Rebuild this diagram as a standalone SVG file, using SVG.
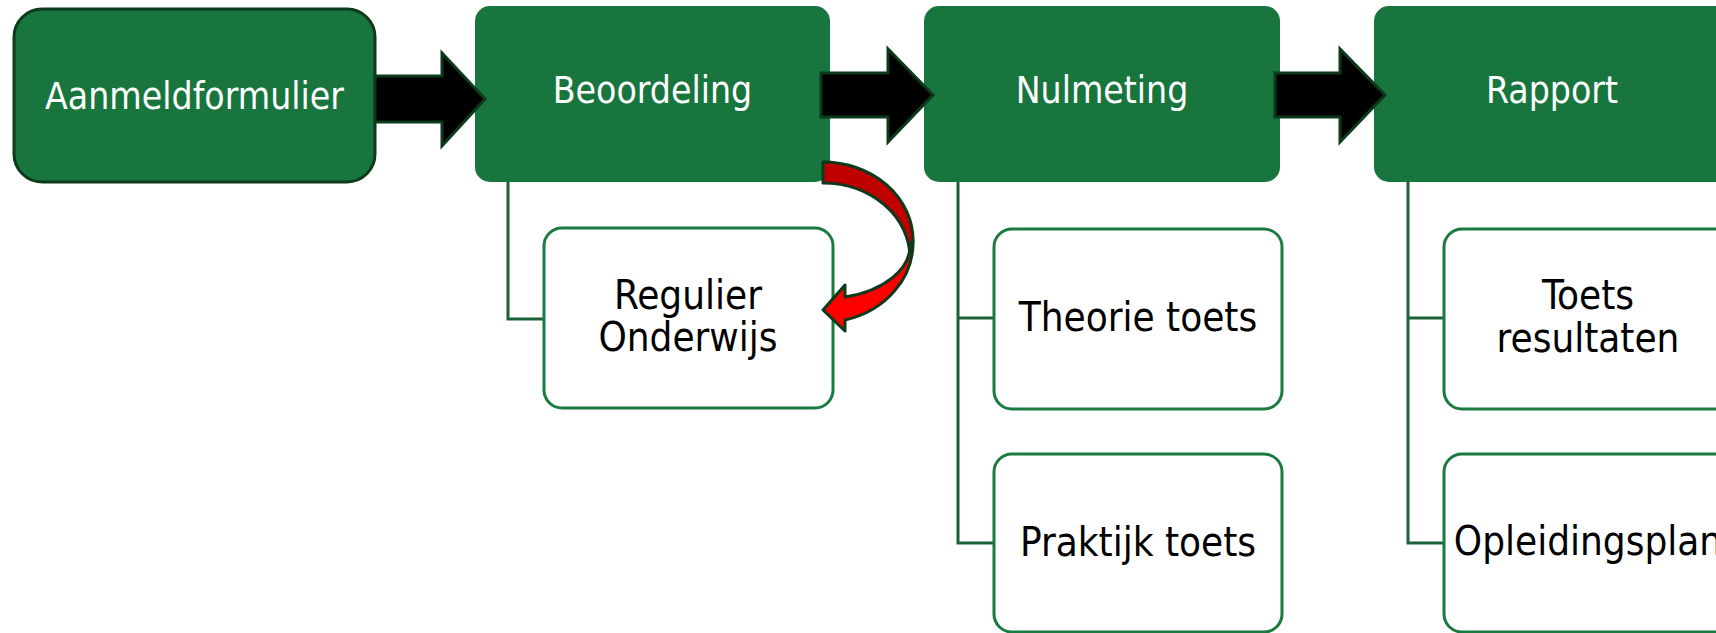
<svg xmlns="http://www.w3.org/2000/svg" width="1716" height="633" viewBox="0 0 1716 633">
<style>
.head{fill:#17753d}
.headtxt{fill:#ffffff;font-family:'DejaVu Sans Condensed','DejaVu Sans',sans-serif;font-stretch:condensed;font-size:37px;text-anchor:middle}
.child{fill:#ffffff;stroke:#1b7a40;stroke-width:3}
.childtxt{fill:#000000;font-family:'DejaVu Sans Condensed','DejaVu Sans',sans-serif;font-stretch:condensed;font-size:40px;text-anchor:middle}
.conn{fill:none;stroke:#1a6236;stroke-width:3}
.arrow{fill:#000000;stroke:#0c3a1a;stroke-width:3;stroke-linejoin:miter}
</style>
<rect width="1716" height="633" fill="#ffffff"/>
<g id="connectors">
<path class="conn" d="M508,182 V319 H545"/>
<path class="conn" d="M958,182 V543 H995 M958,318 H995"/>
<path class="conn" d="M1408,182 V543 H1445 M1408,318 H1445"/>
</g>
<g id="node-aanmeldformulier">
<rect x="14" y="9" width="361" height="173" rx="28" fill="#17753d" stroke="#0d3a1b" stroke-width="3"/>
<text class="headtxt" x="194.5" y="109">Aanmeldformulier</text>
</g>
<g id="node-beoordeling">
<rect class="head" x="475" y="6" width="355" height="176" rx="15"/>
<text class="headtxt" x="652.5" y="103">Beoordeling</text>
</g>
<g id="node-nulmeting">
<rect class="head" x="924" y="6" width="356" height="176" rx="15"/>
<text class="headtxt" x="1102" y="103">Nulmeting</text>
</g>
<g id="node-rapport">
<rect class="head" x="1374" y="6" width="356" height="176" rx="15"/>
<text class="headtxt" x="1552" y="103">Rapport</text>
</g>
<g id="node-regulier">
<rect class="child" x="544" y="228" width="289" height="180" rx="18"/>
<text class="childtxt" x="688" y="309">Regulier</text>
<text class="childtxt" x="688" y="351">Onderwijs</text>
</g>
<g id="node-theorie">
<rect class="child" x="994" y="229" width="288" height="180" rx="18"/>
<text class="childtxt" x="1138" y="331">Theorie toets</text>
</g>
<g id="node-praktijk">
<rect class="child" x="994" y="454" width="288" height="178" rx="18"/>
<text class="childtxt" x="1138" y="556">Praktijk toets</text>
</g>
<g id="node-toetsresultaten">
<rect class="child" x="1444" y="229" width="290" height="180" rx="18"/>
<text class="childtxt" x="1588" y="309">Toets</text>
<text class="childtxt" x="1588" y="352">resultaten</text>
</g>
<g id="node-opleidingsplan">
<rect class="child" x="1444" y="454" width="290" height="178" rx="18"/>
<text class="childtxt" x="1588" y="555">Opleidingsplan</text>
</g>
<g id="flow-arrows">
<path class="arrow" d="M375,76 H442 V53 L485,99 L442,146 V122 H375 Z"/>
<path class="arrow" d="M821,73 H888 V49 L933,95 L888,142 V117 H821 Z"/>
<path class="arrow" d="M1275,73 H1340 V49 L1385,95 L1340,142 V117 H1275 Z"/>
<g id="curved-arrow" stroke="#0c3a1a" stroke-width="3" stroke-linejoin="round">
<path fill="#c00000" d="M823,162 A90,78 0 0 1 913,240 L910,258 A87,75 0 0 0 823,183 Z"/>
<path fill="#ff0000" d="M913,240 A90,80 0 0 1 845,320 L845,331 L823,310 L845,285 L845,297 A87,53 0 0 0 910,245 Z"/>
</g>
</g>
</svg>
